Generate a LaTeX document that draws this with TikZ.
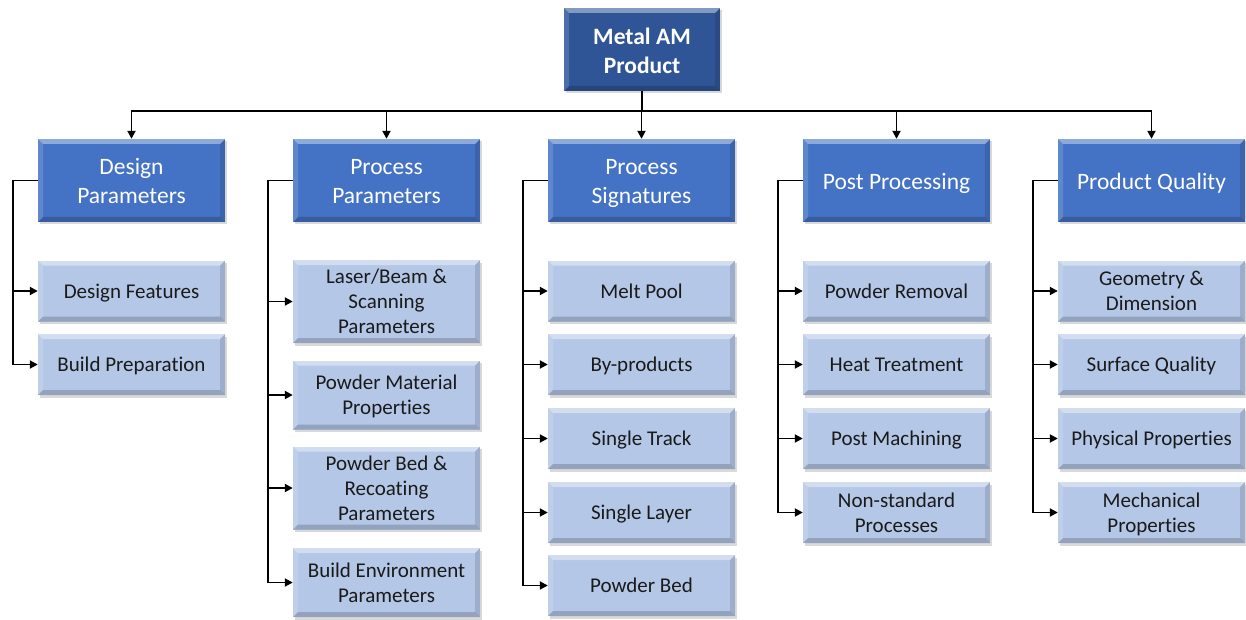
\documentclass[tikz,border=0pt]{standalone}
\usepackage{fontspec}
\setmainfont{Carlito}[Ligatures=NoCommon]
\usetikzlibrary{arrows.meta,shadows}
\definecolor{topblue}{HTML}{2F5597}
\definecolor{catblue}{HTML}{4472C4}
\definecolor{childblue}{HTML}{B4C7E7}
\definecolor{txt}{HTML}{1A1A1A}
\newlength{\mlshift}
\newcommand{\mlines}[1]{\raisebox{-\mlshift}[\height][\depth]{\begin{tabular}{@{}c@{}}#1\end{tabular}}}
\tikzset{
  bevel/.style={path picture={
    \coordinate (pnw) at (path picture bounding box.north west);
    \coordinate (pne) at (path picture bounding box.north east);
    \coordinate (psw) at (path picture bounding box.south west);
    \coordinate (pse) at (path picture bounding box.south east);
    \fill[white,opacity=.40] (pnw) -- (pne) -- ([shift={(-5pt,-5pt)}]pne) -- ([shift={(5pt,-5pt)}]pnw) -- cycle;
    \fill[white,opacity=.15] (pnw) -- ([shift={(5pt,-5pt)}]pnw) -- ([shift={(5pt,5pt)}]psw) -- (psw) -- cycle;
    \fill[black,opacity=.12] (pne) -- ([shift={(-5pt,-5pt)}]pne) -- ([shift={(-5pt,5pt)}]pse) -- (pse) -- cycle;
    \fill[black,opacity=.18] (psw) -- ([shift={(5pt,5pt)}]psw) -- ([shift={(-5pt,5pt)}]pse) -- (pse) -- cycle;
  }},
  boxbase/.style={draw=none, minimum width=187pt, inner sep=0pt, bevel,
    drop shadow={opacity=.3, shadow xshift=1.5pt, shadow yshift=-2.5pt}},
  topbox/.style={boxbase, fill=topblue, minimum width=156pt, minimum height=83pt, text=white,
    font=\bfseries\fontsize{23.5}{29}\selectfont\setlength{\mlshift}{4pt}},
  catbox/.style={boxbase, fill=catblue, minimum height=83pt, text=white,
    font=\fontsize{23.5}{29}\selectfont\setlength{\mlshift}{3pt}},
  kid/.style={boxbase, fill=childblue, minimum height=61pt, text=txt,
    font=\fontsize{21}{25}\selectfont\setlength{\mlshift}{2pt}},
  kidtall/.style={kid, minimum height=83pt},
  kidmid/.style={kid, minimum height=69pt},
  conn/.style={line width=1.9pt, -{Triangle[length=8pt,width=8pt]}},
}
\begin{document}
\begin{tikzpicture}[x=1pt,y=-1pt]
\useasboundingbox (0,0) rectangle (1246,620);
% top
\node[topbox] (top) at (642,49.5) {\mlines{Metal AM\\Product}};
\coordinate (bus) at (642,111);
% categories
\node[catbox] (c1) at (131.5,180.5) {\mlines{Design\\Parameters}};
\node[catbox] (c2) at (386.5,180.5) {\mlines{Process\\Parameters}};
\node[catbox] (c3) at (641.5,180.5) {\mlines{Process\\Signatures}};
\node[catbox] (c4) at (896.5,180.5) {\mlines{Post Processing}};
\node[catbox] (c5) at (1151.5,180.5) {\mlines{Product Quality}};
% children column 1
\node[kid] (d1) at (131.5,291) {\mlines{Design Features}};
\node[kid] (d2) at (131.5,364.5) {\mlines{Build Preparation}};
% column 2
\node[kidtall] (p1) at (386.5,301.5) {\mlines{Laser/Beam \&\\Scanning\\Parameters}};
\node[kidmid] (p2) at (386.5,395) {\mlines{Powder Material\\Properties}};
\node[kidtall] (p3) at (386.5,488) {\mlines{Powder Bed \&\\Recoating\\Parameters}};
\node[kidmid] (p4) at (386.5,582.5) {\mlines{Build Environment\\Parameters}};
% column 3
\node[kid] (s1) at (641.5,291) {\mlines{Melt Pool}};
\node[kid] (s2) at (641.5,364.5) {\mlines{By-products}};
\node[kid] (s3) at (641.5,438.5) {\mlines{Single Track}};
\node[kid] (s4) at (641.5,512.5) {\mlines{Single Layer}};
\node[kid] (s5) at (641.5,585.5) {\mlines{Powder Bed}};
% column 4
\node[kid] (o1) at (896.5,291) {\mlines{Powder Removal}};
\node[kid] (o2) at (896.5,364.5) {\mlines{Heat Treatment}};
\node[kid] (o3) at (896.5,438.5) {\mlines{Post Machining}};
\node[kid] (o4) at (896.5,512.5) {\mlines{Non-standard\\Processes}};
% column 5
\node[kid] (q1) at (1151.5,291) {\mlines{Geometry \&\\Dimension}};
\node[kid] (q2) at (1151.5,364.5) {\mlines{Surface Quality}};
\node[kid] (q3) at (1151.5,438.5) {\mlines{Physical Properties}};
\node[kid] (q4) at (1151.5,512.5) {\mlines{Mechanical\\Properties}};
% top connectors
\foreach \c in {c1,c2,c3,c4,c5}
  \draw[conn] (top.south) -- (bus) -| (\c.north);
% child connectors
\foreach \c/\k in {c1/d1,c1/d2,c2/p1,c2/p2,c2/p3,c2/p4,c3/s1,c3/s2,c3/s3,c3/s4,c3/s5,c4/o1,c4/o2,c4/o3,c4/o4,c5/q1,c5/q2,c5/q3,c5/q4}
  \draw[conn] (\c.west) -- ++(-25,0) |- (\k.west);
\end{tikzpicture}
\end{document}
